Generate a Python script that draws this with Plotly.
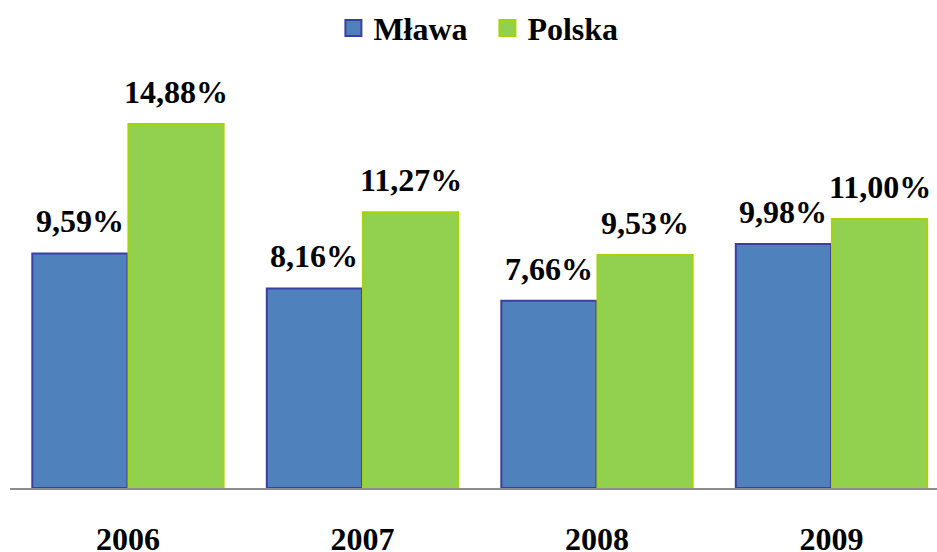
import plotly.graph_objects as go

years = ["2006", "2007", "2008", "2009"]
mlawa = [9.59, 8.16, 7.66, 9.98]
polska = [14.88, 11.27, 9.53, 11.00]
series_names = ["Mława", "Polska"]

FONT = "Liberation Serif, Times New Roman, serif"
BLUE, BLUE_LINE = "#4F81BD", "#3A3FA3"
GREEN, GREEN_LINE = "#92D050", "#A6D20A"

fig = go.Figure()
fig.add_trace(go.Bar(x=years, y=mlawa, name=series_names[0], showlegend=False,
                     marker=dict(color=BLUE, line=dict(color=BLUE_LINE, width=2))))
fig.add_trace(go.Bar(x=years, y=polska, name=series_names[1], showlegend=False,
                     marker=dict(color=GREEN, line=dict(color=GREEN_LINE, width=2))))
# legend entries
for nm, c, lc in [(series_names[0], BLUE, BLUE_LINE), (series_names[1], GREEN, GREEN_LINE)]:
    fig.add_trace(go.Scatter(x=[None], y=[None], mode="markers", name="<b>" + nm + "</b>",
                             marker=dict(symbol="square", size=16, color=c, line=dict(color=lc, width=2))))

off = 0.205
annotations = []
for i, (m, p) in enumerate(zip(mlawa, polska)):
    for xv, v in [(i - off, m), (i + off, p)]:
        annotations.append(dict(x=xv, y=v, xref="x", yref="y",
                                text="<b>" + f"{v:.2f}%".replace(".", ",") + "</b>",
                                showarrow=False, yanchor="bottom", yshift=12,
                                font=dict(family=FONT, size=32, color="black")))

fig.update_layout(
    width=937, height=552,
    margin=dict(l=10, r=0, t=60, b=64, autoexpand=False),
    paper_bgcolor="white", plot_bgcolor="white",
    barmode="group", bargap=0.18, bargroupgap=0.01,
    showlegend=True,
    legend=dict(orientation="h", x=0.515, xanchor="center", yref="container", y=0.949, yanchor="middle",
                entrywidth=109, entrywidthmode="pixels",
                font=dict(family=FONT, size=32, color="black")),
    annotations=annotations,
    xaxis=dict(range=[-0.503, 3.45], showline=True, linecolor="#8C8C8C", linewidth=2,
               automargin=False, ticks="", ticklabelstandoff=22, showgrid=False, zeroline=False,
               tickvals=years, ticktext=["<b>" + y + "</b>" for y in years],
               tickfont=dict(family=FONT, size=32, color="black")),
    yaxis=dict(range=[0, 17.5], visible=False, showgrid=False, zeroline=False, automargin=False),
)
fig.write_html("out.html", config={"displayModeBar": False},
               post_script="document.body.style.margin='0';")
